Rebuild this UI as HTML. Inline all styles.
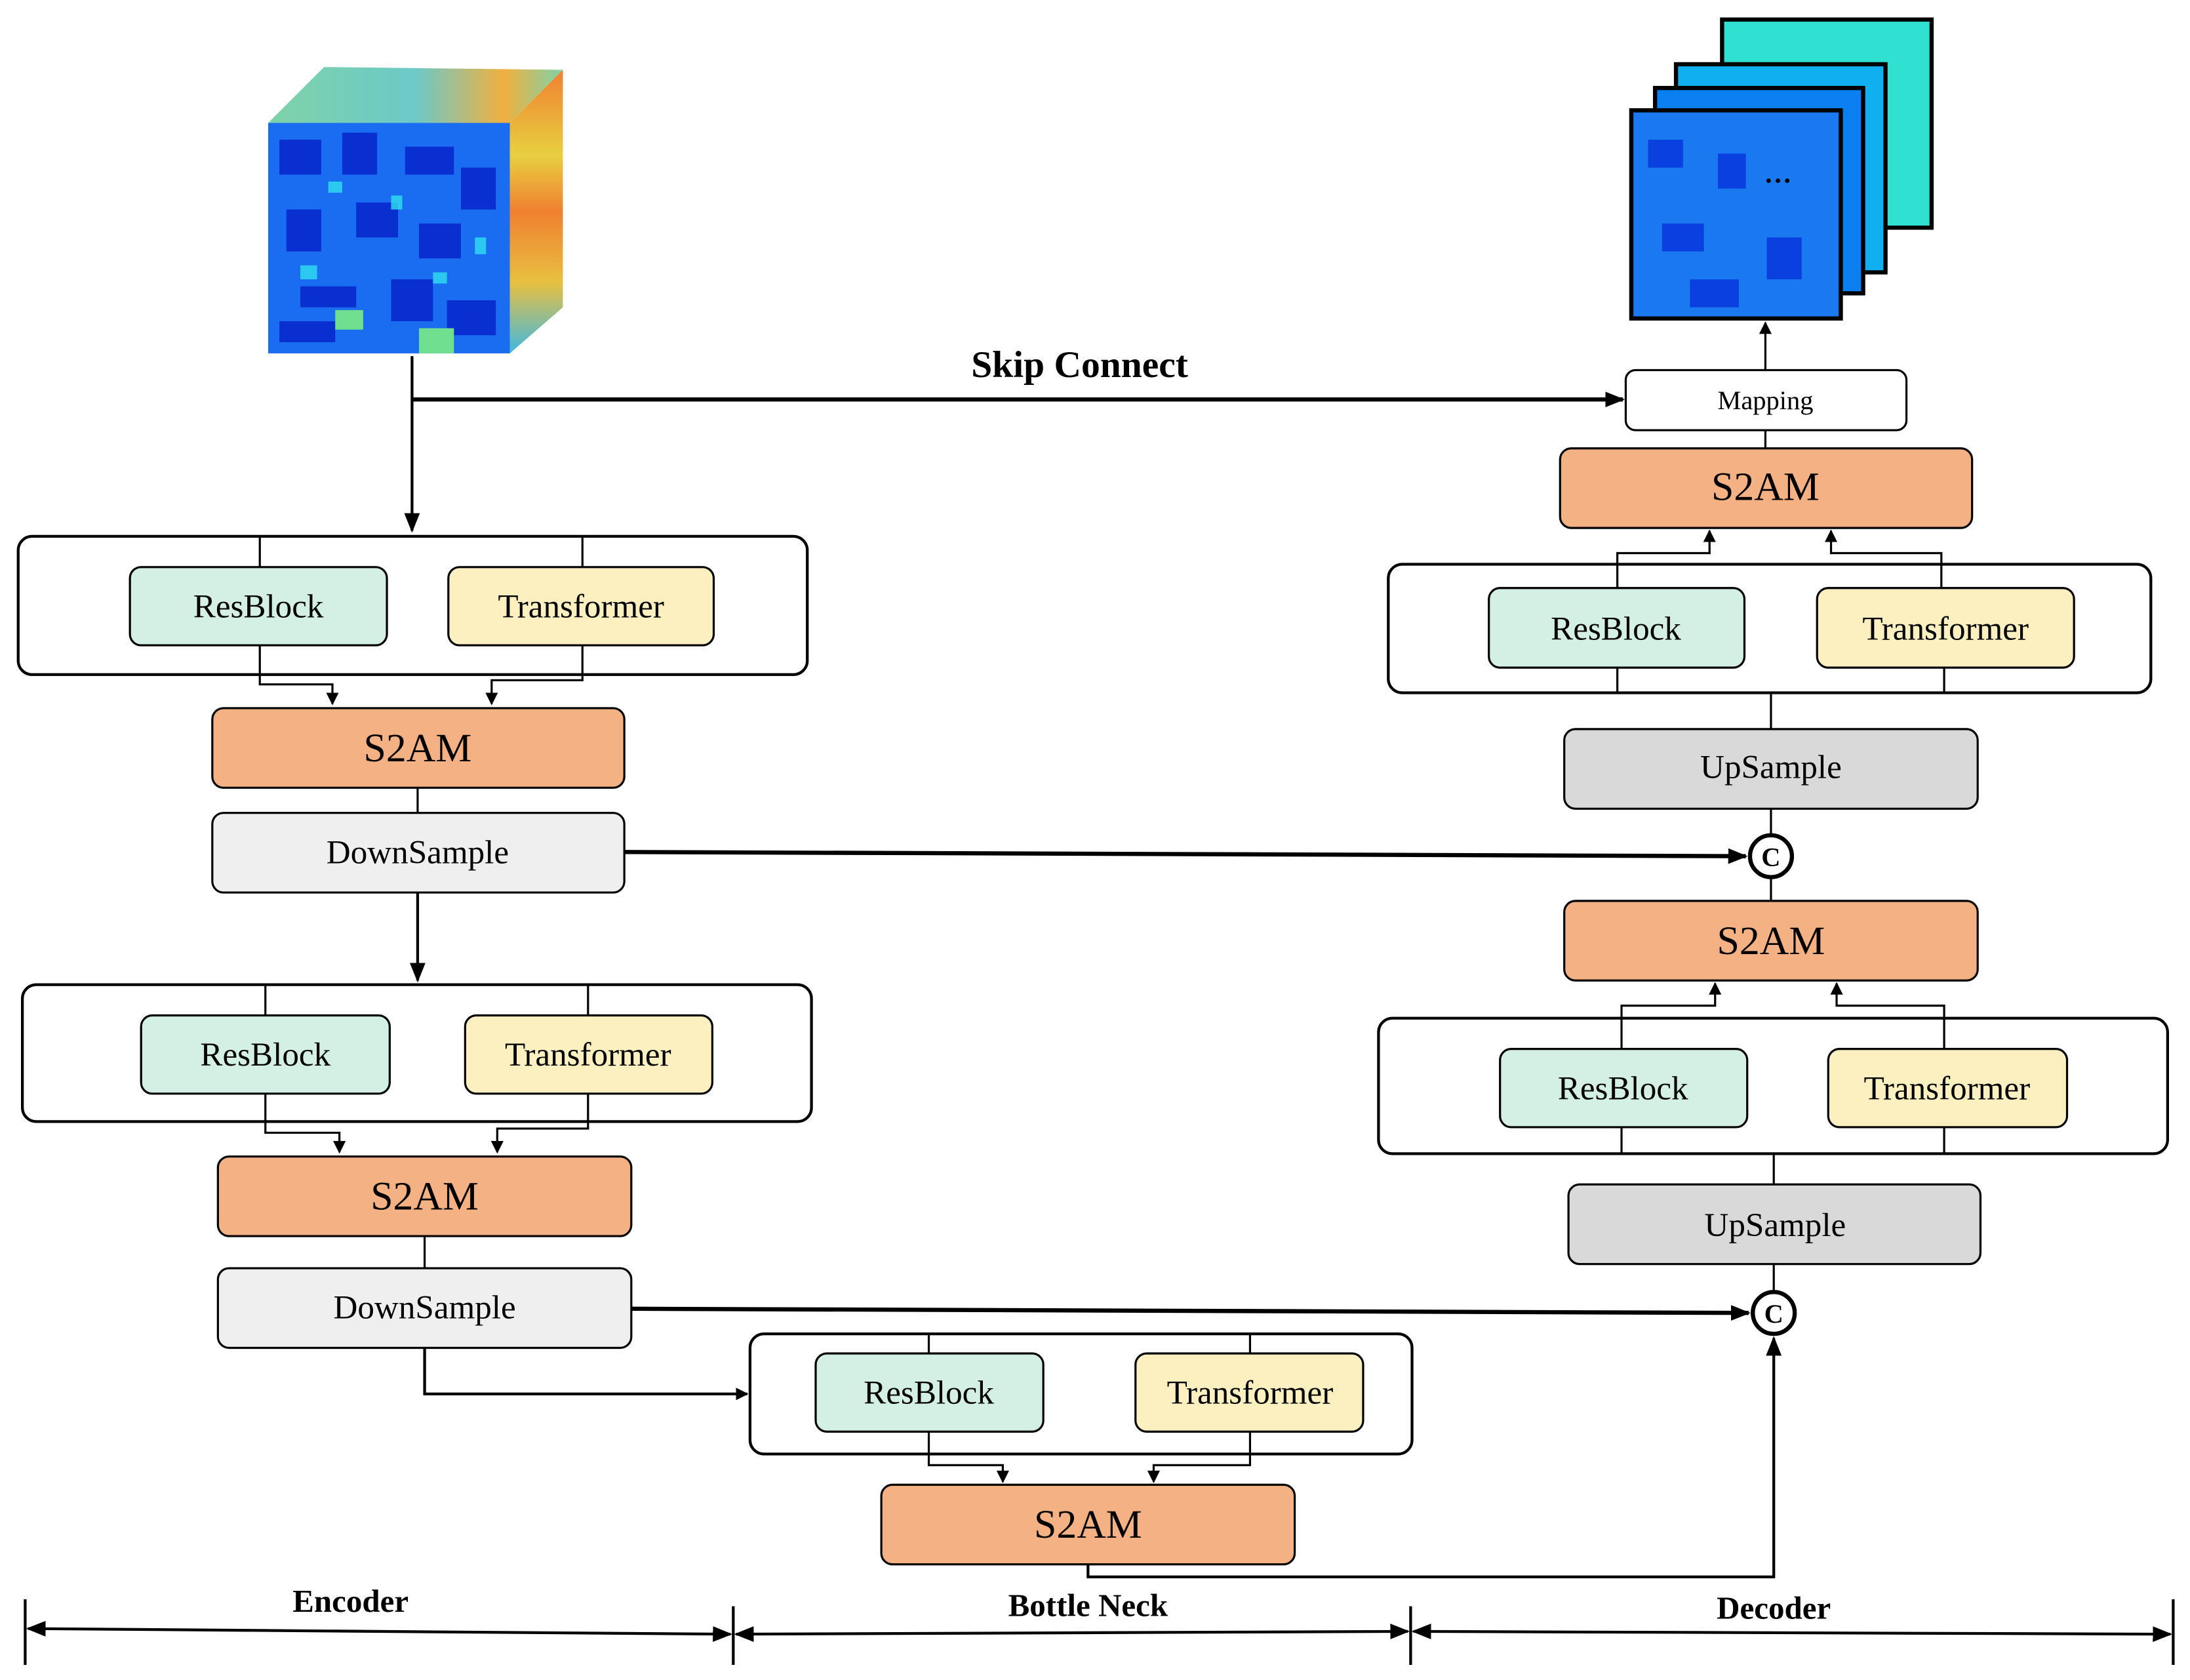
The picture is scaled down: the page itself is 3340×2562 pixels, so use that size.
<!DOCTYPE html>
<html><head><meta charset="utf-8"><style>
html,body{margin:0;padding:0;background:#fff}
svg{display:block;font-family:"Liberation Serif","Times New Roman",serif}
svg text{font-family:"Liberation Serif","Times New Roman",serif;fill:#000}
</style></head><body>
<svg width="3340" height="2562" viewBox="0 0 1568 1202.8" xmlns="http://www.w3.org/2000/svg" font-family="Liberation Serif, serif">
<defs>
<marker id="s" viewBox="0 0 10 10" refX="9" refY="5" markerWidth="9" markerHeight="9" orient="auto-start-reverse" markerUnits="userSpaceOnUse"><path d="M0,0 L10,5 L0,10 z" fill="#000"/></marker>
<marker id="b" viewBox="0 0 10 10" refX="9" refY="5" markerWidth="14" markerHeight="14" markerUnits="userSpaceOnUse" orient="auto-start-reverse"><path d="M0,1 L10,5 L0,9 z" fill="#000"/></marker>
<linearGradient id="top" x1="0" y1="0" x2="1" y2="0"><stop offset="0" stop-color="#7fd3a8"/><stop offset="0.5" stop-color="#6cc9c8"/><stop offset="0.8" stop-color="#f0b040"/><stop offset="1" stop-color="#7fd3a8"/></linearGradient>
<linearGradient id="side" x1="0" y1="0" x2="0" y2="1"><stop offset="0" stop-color="#f08030"/><stop offset="0.3" stop-color="#e8d040"/><stop offset="0.5" stop-color="#f08030"/><stop offset="0.75" stop-color="#e8c040"/><stop offset="1" stop-color="#40b8e0"/></linearGradient>
</defs>

<polygon points="192,88 232,48 403,50 365,88" fill="url(#top)"/>
<polygon points="365,88 403,50 403,220 365,253" fill="url(#side)"/>
<rect x="192" y="88" width="173" height="165" fill="#1a6cf0"/>
<g fill="#0a2fd0">
<rect x="200" y="100" width="30" height="25"/><rect x="245" y="95" width="25" height="30"/><rect x="290" y="105" width="35" height="20"/><rect x="330" y="120" width="25" height="30"/>
<rect x="205" y="150" width="25" height="30"/><rect x="255" y="145" width="30" height="25"/><rect x="300" y="160" width="30" height="25"/><rect x="215" y="205" width="40" height="15"/><rect x="280" y="200" width="30" height="30"/><rect x="320" y="215" width="35" height="25"/><rect x="200" y="230" width="40" height="15"/>
</g>
<g fill="#30e0f0" opacity="0.8">
<rect x="235" y="130" width="10" height="8"/><rect x="280" y="140" width="8" height="10"/><rect x="215" y="190" width="12" height="10"/><rect x="310" y="195" width="10" height="8"/><rect x="340" y="170" width="8" height="12"/>
</g>
<rect x="240" y="222" width="20" height="14" fill="#70e090"/><rect x="300" y="235" width="25" height="18" fill="#70e090"/>

<rect x="1233" y="14" width="150" height="149" fill="#30e0d0" stroke="#000" stroke-width="3"/>
<rect x="1200" y="46" width="150" height="149" fill="#10b0f0" stroke="#000" stroke-width="3"/>
<rect x="1185" y="63" width="149" height="147" fill="#0a80f0" stroke="#000" stroke-width="3"/>
<rect x="1168" y="79" width="150" height="149" fill="#1a78f0" stroke="#000" stroke-width="3"/>
<g fill="#0a40e0"><rect x="1180" y="100" width="25" height="20"/><rect x="1230" y="110" width="20" height="25"/><rect x="1190" y="160" width="30" height="20"/><rect x="1265" y="170" width="25" height="30"/><rect x="1210" y="200" width="35" height="20"/></g>
<text x="1273" y="136" font-size="20" font-weight="bold" text-anchor="middle">···</text>

<text x="773" y="270" font-size="27" font-weight="bold" text-anchor="middle" font-family="Liberation Serif, serif">Skip Connect</text>
<line x1="295" y1="255" x2="295" y2="380" stroke="#000" stroke-width="2" marker-end="url(#b)"/>
<line x1="295" y1="286" x2="1162" y2="286" stroke="#000" stroke-width="3" marker-end="url(#b)"/>

<g stroke="#000" stroke-width="1.5">
<rect x="13" y="384" width="565" height="99" rx="10" fill="none" stroke-width="2"/>
<line x1="186" y1="384" x2="186" y2="406"/><line x1="417" y1="384" x2="417" y2="406"/>
<rect x="93" y="406" width="184" height="56" rx="8" fill="#d4efe3"/>
<rect x="321" y="406" width="190" height="56" rx="8" fill="#fdf0c0"/>
<polyline points="186,462 186,490 238,490 238,504" fill="none" marker-end="url(#s)"/>
<polyline points="417,462 417,487 352,487 352,504" fill="none" marker-end="url(#s)"/>
<rect x="152" y="507" width="295" height="57" rx="8" fill="#f4b183"/>
<line x1="299" y1="564" x2="299" y2="582"/>
<rect x="152" y="582" width="295" height="57" rx="8" fill="#efefef"/>
<line x1="447" y1="610" x2="1250" y2="613" stroke-width="3" marker-end="url(#b)"/>
<line x1="299" y1="639" x2="299" y2="702" stroke-width="2" marker-end="url(#b)"/>

<rect x="16" y="705" width="565" height="98" rx="10" fill="none" stroke-width="2"/>
<line x1="190" y1="705" x2="190" y2="727"/><line x1="421" y1="705" x2="421" y2="727"/>
<rect x="101" y="727" width="178" height="56" rx="8" fill="#d4efe3"/>
<rect x="333" y="727" width="177" height="56" rx="8" fill="#fdf0c0"/>
<polyline points="190,783 190,811 243,811 243,825" fill="none" marker-end="url(#s)"/>
<polyline points="421,783 421,808 356,808 356,825" fill="none" marker-end="url(#s)"/>
<rect x="156" y="828" width="296" height="57" rx="8" fill="#f4b183"/>
<line x1="304" y1="885" x2="304" y2="908"/>
<rect x="156" y="908" width="296" height="57" rx="8" fill="#efefef"/>
<line x1="452" y1="937" x2="1252" y2="940" stroke-width="3" marker-end="url(#b)"/>
<polyline points="304,965 304,998 535,998" fill="none" stroke-width="2" marker-end="url(#s)"/>

<rect x="537" y="955" width="474" height="86" rx="10" fill="none" stroke-width="2"/>
<line x1="665" y1="955" x2="665" y2="969"/><line x1="895" y1="955" x2="895" y2="969"/>
<rect x="584" y="969" width="163" height="56" rx="8" fill="#d4efe3"/>
<rect x="813" y="969" width="163" height="56" rx="8" fill="#fdf0c0"/>
<polyline points="665,1025 665,1049 718,1049 718,1061" fill="none" marker-end="url(#s)"/>
<polyline points="895,1025 895,1049 826,1049 826,1061" fill="none" marker-end="url(#s)"/>
<rect x="631" y="1063" width="296" height="57" rx="8" fill="#f4b183"/>
<polyline points="779,1120 779,1129 1270,1129 1270,958" fill="none" stroke-width="2" marker-end="url(#b)"/>

<circle cx="1270" cy="940" r="15" fill="#fff" stroke-width="3"/>
<line x1="1270" y1="905" x2="1270" y2="925"/>
<rect x="1123" y="848" width="295" height="57" rx="8" fill="#d9d9d9"/>
<line x1="1270" y1="826" x2="1270" y2="848"/>
<rect x="987" y="729" width="565" height="97" rx="10" fill="none" stroke-width="2"/>
<rect x="1074" y="751" width="177" height="56" rx="8" fill="#d4efe3"/>
<rect x="1309" y="751" width="171" height="56" rx="8" fill="#fdf0c0"/>
<line x1="1161" y1="807" x2="1161" y2="826"/><line x1="1392" y1="807" x2="1392" y2="826"/>
<polyline points="1161,751 1161,720 1228,720 1228,704" fill="none" marker-end="url(#s)"/>
<polyline points="1392,751 1392,720 1315,720 1315,704" fill="none" marker-end="url(#s)"/>
<rect x="1120" y="645" width="296" height="57" rx="8" fill="#f4b183"/>
<line x1="1268" y1="628" x2="1268" y2="645"/>
<circle cx="1268" cy="613" r="15" fill="#fff" stroke-width="3"/>
<line x1="1268" y1="579" x2="1268" y2="598"/>
<rect x="1120" y="522" width="296" height="57" rx="8" fill="#d9d9d9"/>
<line x1="1268" y1="496" x2="1268" y2="522"/>
<rect x="994" y="404" width="546" height="92" rx="10" fill="none" stroke-width="2"/>
<rect x="1066" y="421" width="183" height="57" rx="8" fill="#d4efe3"/>
<rect x="1301" y="421" width="184" height="57" rx="8" fill="#fdf0c0"/>
<line x1="1158" y1="478" x2="1158" y2="496"/><line x1="1392" y1="478" x2="1392" y2="496"/>
<polyline points="1158,421 1158,396 1224,396 1224,380" fill="none" marker-end="url(#s)"/>
<polyline points="1390,421 1390,396 1311,396 1311,380" fill="none" marker-end="url(#s)"/>
<rect x="1117" y="321" width="295" height="57" rx="8" fill="#f4b183"/>
<line x1="1264" y1="308" x2="1264" y2="321"/>
<rect x="1164" y="265" width="201" height="43" rx="7" fill="#fff"/>
<line x1="1264" y1="265" x2="1264" y2="231" marker-end="url(#s)"/>

<g stroke-width="2">
<line x1="18" y1="1145" x2="18" y2="1192"/><line x1="525" y1="1150" x2="525" y2="1192"/><line x1="1010" y1="1150" x2="1010" y2="1192"/><line x1="1556" y1="1145" x2="1556" y2="1192"/>
<line x1="20" y1="1166" x2="523" y2="1170" marker-start="url(#b)" marker-end="url(#b)"/>
<line x1="527" y1="1170" x2="1008" y2="1168" marker-start="url(#b)" marker-end="url(#b)"/>
<line x1="1012" y1="1168" x2="1554" y2="1170" marker-start="url(#b)" marker-end="url(#b)"/>
</g>
</g>

<g text-anchor="middle" font-size="24" font-family="Liberation Serif, serif">
<text x="185" y="442">ResBlock</text><text x="416" y="442">Transformer</text>
<text x="299" y="545" font-size="29">S2AM</text><text x="299" y="618">DownSample</text>
<text x="190" y="763">ResBlock</text><text x="421" y="763">Transformer</text>
<text x="304" y="866" font-size="29">S2AM</text><text x="304" y="944">DownSample</text>
<text x="665" y="1005">ResBlock</text><text x="895" y="1005">Transformer</text>
<text x="779" y="1101" font-size="29">S2AM</text>
<text x="1271" y="885">UpSample</text>
<text x="1162" y="787">ResBlock</text><text x="1394" y="787">Transformer</text>
<text x="1268" y="683" font-size="29">S2AM</text>
<text x="1268" y="557">UpSample</text>
<text x="1157" y="458">ResBlock</text><text x="1393" y="458">Transformer</text>
<text x="1264" y="358" font-size="29">S2AM</text>
<text x="1264" y="293" font-size="19">Mapping</text>
<text x="1268" y="620" font-size="19" font-weight="bold">C</text>
<text x="1270" y="947" font-size="19" font-weight="bold">C</text>
<text x="251" y="1154" font-size="23" font-weight="bold">Encoder</text>
<text x="779" y="1157" font-size="23" font-weight="bold">Bottle Neck</text>
<text x="1270" y="1159" font-size="23" font-weight="bold">Decoder</text>
</g>
</svg>
</body></html>
